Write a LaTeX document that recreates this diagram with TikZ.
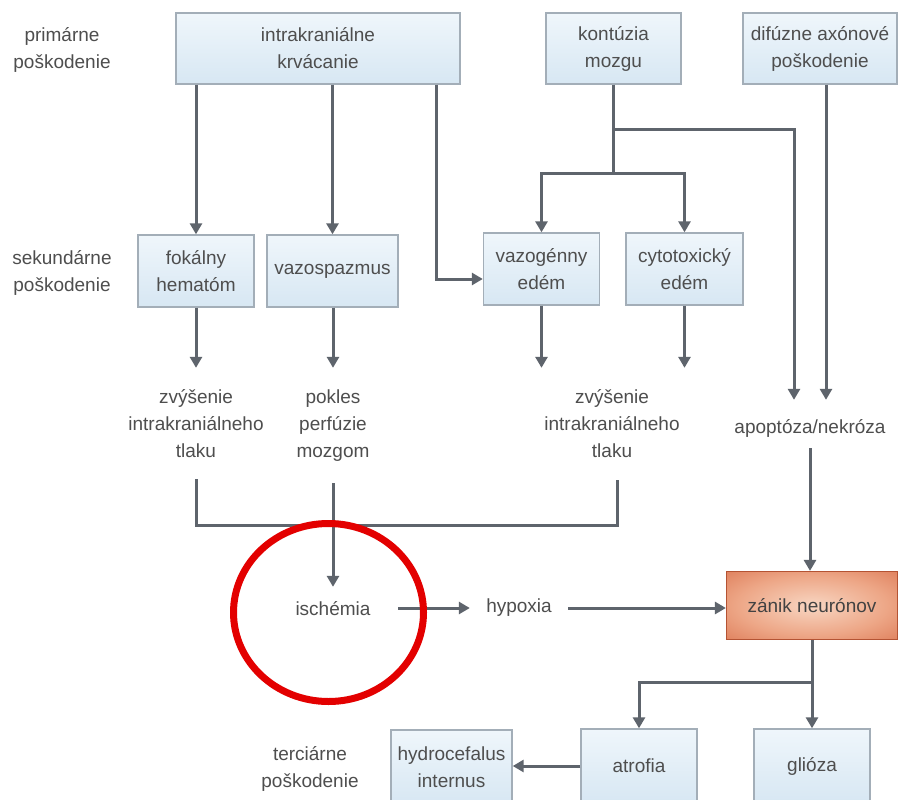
\documentclass[tikz,border=0pt]{standalone}
\usepackage{fontspec}
\setmainfont{Liberation Sans}
\usetikzlibrary{arrows.meta}
\definecolor{txt}{HTML}{4E4E4E}
\definecolor{ln}{HTML}{5E646C}
\definecolor{bd}{HTML}{A3AEB8}
\definecolor{btop}{HTML}{EFF6FB}
\definecolor{bbot}{HTML}{D7E7F3}
\definecolor{zout}{HTML}{D4623C}
\definecolor{zmid}{HTML}{EDA686}
\definecolor{zin}{HTML}{F8D6C2}
\definecolor{ring}{HTML}{E30000}
\pgfdeclareradialshading{zshade}{\pgfpoint{0bp}{0bp}}{color(0bp)=(zin); color(22bp)=(zmid); color(48bp)=(zout); color(72bp)=(zout)}
\begin{document}
\begin{tikzpicture}[x=1pt,y=-1pt,
  dfont/.style={font=\fontsize{19}{27}\selectfont},
  box/.style={dfont,draw=bd,line width=1.4pt,top color=btop,bottom color=bbot,
    align=center,inner sep=0pt,text=txt},
  zbox/.style={dfont,draw=zout!85!black,line width=1.2pt,shading=zshade,
    align=center,inner sep=0pt,text=txt!85!black},
  lbl/.style={dfont,align=center,inner sep=0pt,text=txt},
  one/.style={dfont,inner sep=0pt,text=txt},
  ln/.style={draw=ln,line width=3pt},
  arr/.style={ln,-{Triangle[width=12pt,length=11pt]}}]
\clip (0,0) rectangle (902,800);
\fill[white] (0,0) rectangle (902,800);

% side labels
\node[lbl] (prim) at (62,49.5) {primárne\\poškodenie};
\node[lbl] (sek) at (62,273) {sekundárne\\poškodenie};
\node[lbl] (terc) at (310,769) {terciárne\\poškodenie};

% primary boxes
\node[box,minimum width=284pt,minimum height=71pt] (ikr) at (318,48.5) {intrakraniálne\\krvácanie};
\node[box,minimum width=135pt,minimum height=71pt] (kon) at (613.5,48.5) {kontúzia\\mozgu};
\node[box,minimum width=154pt,minimum height=71pt] (dif) at (820,48.5) {difúzne axónové\\poškodenie};

% secondary boxes
\node[box,minimum width=116pt,minimum height=72pt] (fok) at (196,271) {fokálny\\hematóm};
\node[box,minimum width=131pt,minimum height=72pt] (vaz) at (332.5,271) {vazospazmus};
\node[box,minimum width=116pt,minimum height=72pt] (vzg) at (541.5,269) {vazogénny\\edém};
\node[box,minimum width=117pt,minimum height=72pt] (cyt) at (684.5,269) {cytotoxický\\edém};

% middle labels
\node[lbl,minimum height=111pt] (zv1) at (196,423.5) {zvýšenie\\intrakraniálneho\\tlaku};
\node[lbl,minimum height=115pt] (pok) at (333,425.5) {pokles\\perfúzie\\mozgom};
\node[lbl,minimum height=112pt] (zv2) at (612,424) {zvýšenie\\intrakraniálneho\\tlaku};
\node[one,minimum height=48pt] (apo) at (810,424) {\raisebox{-4pt}[\height][\depth]{apoptóza/nekróza}};
\node[one,minimum width=130pt,minimum height=42pt] (isch) at (333,608) {\raisebox{-1pt}[\height][\depth]{ischémia}};
\node[one,minimum width=98pt,minimum height=30pt] (hyp) at (519,608) {hypoxia};

% zanik
\node[zbox,minimum width=171pt,minimum height=68pt] (zan) at (812,605.5) {zánik neurónov};

% tertiary boxes
\node[box,minimum width=121pt,minimum height=74pt] (hyd) at (451.5,767) {hydrocefalus\\internus};
\node[box,minimum width=116pt,minimum height=74pt] (atr) at (639,766) {atrofia};
\node[box,minimum width=116pt,minimum height=74pt] (gli) at (812,766) {glióza};

% helper coordinates
\coordinate (k1) at (436,279);
\coordinate (kb) at (613.5,173);
\coordinate (kr) at (794,129);
\coordinate (dx) at (826,0);
\coordinate (mr) at (617,525);
\coordinate (zb) at (812,682);

% connectors
\draw[arr] (ikr.south -| fok.north) -- (fok.north);
\draw[arr] (ikr.south -| vaz.north) -- (vaz.north);
\draw[arr] (ikr.south -| k1) -- (k1) -- (vzg.west |- k1);
\draw[ln] (kon.south) -- (kb);
\draw[arr] (kb) -| (vzg.north);
\draw[arr] (kb) -| (cyt.north);
\draw[arr] (kon.south |- kr) -- (kr) -- (kr |- apo.north);
\draw[arr] (dif.south -| dx) -- (dx |- apo.north);

\draw[arr] (fok.south) -- (zv1.north);
\draw[arr] (vaz.south -| pok.north) -- (pok.north);
\draw[arr] (vzg.south) -- (vzg.south |- zv2.north);
\draw[arr] (cyt.south) -- (cyt.south |- zv2.north);

\draw[ln] (zv1.south) |- (mr) -- (mr |- zv2.south);
\draw[arr] (pok.south) -- (isch.north);
\draw[arr] (isch.east) -- (hyp.west);
\draw[arr] (hyp.east) -- (zan.west |- hyp.east);
\draw[arr] (apo.south) -- (apo.south |- zan.north);

\draw[arr] (zan.south) -- (gli.north);
\draw[arr] (zb) -| (atr.north);
\draw[arr] (atr.west) -- (hyd.east |- atr.west);

% red ring
\draw[ring,line width=7pt] (328.5,612.5) ellipse [x radius=95pt,y radius=89pt];
\end{tikzpicture}
\end{document}
